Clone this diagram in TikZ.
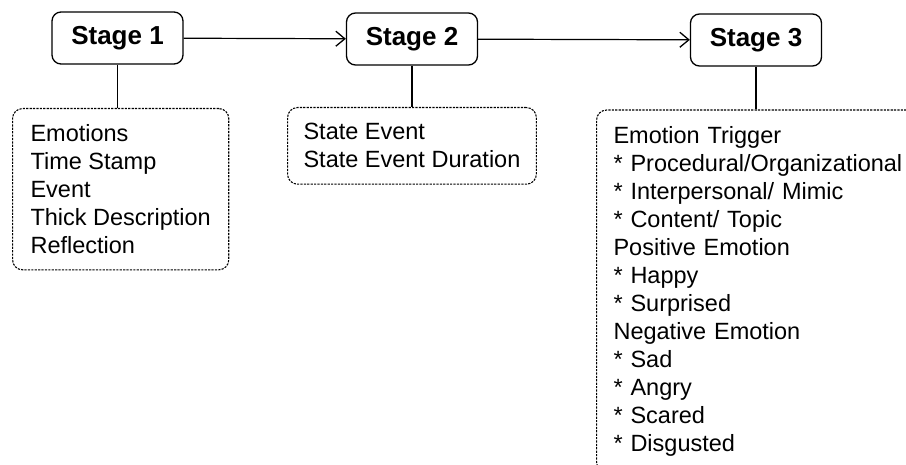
\documentclass[tikz,border=0pt]{standalone}
\usepackage{fontspec}
\setmainfont{Liberation Sans}
\usetikzlibrary{arrows.meta}
\tikzset{stagebox/.style = {draw, rounded corners=9, line width=1.3,
                            minimum width=131, minimum height=52,
                            font=\fontsize{26}{30}\selectfont\bfseries}}
\tikzset{notebox/.style = {draw, rounded corners=10, line width=1.1,
                           dash pattern=on 2.2pt off 1.2pt,
                           inner xsep=17, inner ysep=16, align=left, anchor=north west,
                           font=\fontsize{23.5}{28}\selectfont}}
\tikzset{flow/.style = {line width=1.2, -{Straight Barb[length=9pt, width=15pt, line width=1.3pt]}}}
\tikzset{link/.style = {line width=1.2}}

\begin{document}
\begin{tikzpicture}[x=1pt, y=-1pt]
    \useasboundingbox (0, 0) rectangle (906, 465);
    \clip (0, 0) rectangle (906, 465);

    \node [stagebox] (stageone) at (117.5, 38) {Stage 1};
    \node [stagebox] (stagetwo) at (412, 39) {Stage 2};
    \node [stagebox] (stagethree) at (756, 40) {Stage 3};

    \node [notebox, inner xsep=18] (notesone) at (12, 108)
      {Emotions\\ Time Stamp\\ Event\\ Thick Description\\ Reflection};
    \node [notebox, inner xsep=16] (notestwo) at (287, 107)
      {State Event\\ State Event Duration};
    \node [notebox, text width=330] (notesthree) at (596, 109.5)
      {Emotion Trigger\\ {*} Procedural/Organizational\\ {*} Interpersonal/ Mimic\\
       {*} Content/ Topic\\ Positive Emotion\\ {*} Happy\\ {*} Surprised\\
       Negative Emotion\\ {*} Sad\\ {*} Angry\\ {*} Scared\\ {*} Disgusted};

    \draw [flow] (stageone) -- (stagetwo);
    \draw [flow] (stagetwo) -- (stagethree);

    \draw [link] (stageone.south) -- (stageone.south |- notesone.north);
    \draw [link] (stagetwo.south) -- (stagetwo.south |- notestwo.north);
    \draw [link] (stagethree.south) -- (stagethree.south |- notesthree.north);
\end{tikzpicture}
\end{document}
